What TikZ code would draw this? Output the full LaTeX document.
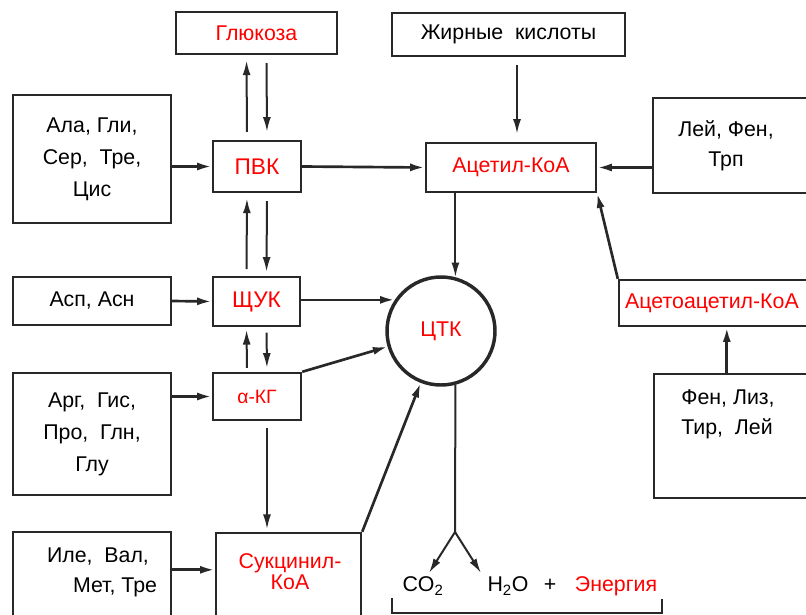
\documentclass[tikz,border=0pt]{standalone}
\usepackage{fontspec}
\setmainfont{Liberation Sans}
\usetikzlibrary{arrows.meta,calc}

\definecolor{ink}{RGB}{40,40,40}
\definecolor{hot}{RGB}{255,0,0}

\tikzset{every picture/.style={line width=0.75pt}}
\tikzset{
  box/.style={draw=ink, line width=1.8pt, inner sep=0pt, rectangle},
  size/.style 2 args={minimum width=#1*0.75pt, minimum height=#2*0.75pt},
  txt/.style={font=\fontsize{16}{24}\selectfont, align=center, text=black},
  key/.style={txt, text=hot},
  big/.style={font=\fontsize{17}{20}\selectfont},
  arr/.style={draw=ink, line width=1.5pt, -{Latex[length=11pt,width=6pt]}},
  bold arr/.style={arr, line width=2pt},
}

\begin{document}
\begin{tikzpicture}[x=0.75pt,y=0.75pt,yscale=-1,xscale=1]
	\useasboundingbox (0,0) rectangle (806,614);
	\clip (0,0) rectangle (806,614);

	%Shape: Rectangle [top row]
	\node[box, key, size={161}{42}] (glu) at (256.5,33) {Глюкоза};
	\node[box, txt, size={233}{43}] (fat) at (508.5,34.5) {Жирные\ \ кислоты};

	%Shape: Rectangle [left column]
	\node[box, txt, size={158}{128}] (ala) at (92,159) {Ала, Гли,\\Сер,\ \ Тре,\\Цис};
	\node[box, txt, size={158}{48}] (asp) at (92,301) {Асп, Асн};
	\node[box, txt, size={158}{122}] (arg) at (92,434) {Арг,\ \ Гис,\\Про,\ \ Глн,\\Глу};
	\node[box, size={158}{108}] (ile) at (92,586) {};
	\node[txt, align=left, font=\fontsize{16}{22.5}\selectfont] (iletxt) at (102,572) {Иле,\ \ Вал,\\\hspace*{19.5pt}Мет, Тре};

	%Shape: Rectangle [intermediates]
	\node[box, key, big, size={88}{51}] (pvk) at (257,166.5) {ПВК};
	\node[box, key, big, size={87}{49}] (scuk) at (256.5,301.5) {ЩУК};
	\node[box, key, font=\fontsize{14.5}{16}\selectfont, size={88}{47}] (akg) at (257,396.5) {α-КГ};
	\node[box, size={145}{107}] (succ) at (288.5,586.5) {};
	\node[key, font=\fontsize{16}{15.75}\selectfont] (succtxt) at (290,572) {Сукцинил-\\КоА};

	%Shape: Circle
	\node[circle, draw=ink, line width=2.6pt, minimum size=81pt, inner sep=0pt, key] (ctk) at (441,331) {ЦТК};

	%Shape: Rectangle [right side]
	\node[box, key, size={170}{49}] (acoa) at (511,167.5) {Ацетил-КоА};
	\node[box, size={177}{95}] (lft) at (741.5,145.5) {};
	\node[txt, font=\fontsize{16}{22.5}\selectfont] (lfttxt) at (726,146) {Лей, Фен,\\Трп};
	\node[box, size={211}{46}] (acac) at (724.5,303) {};
	\node[key] (acactxt) at (712,303) {Ацетоацетил-КоА};
	\node[box, size={176}{124}] (fen) at (742,436) {};
	\node[txt, align=left, font=\fontsize{16}{22.5}\selectfont] (fentxt) at (728,414) {Фен, Лиз,\\Тир,\ \ Лей};

	% Text Node [products]
	\node[txt] (co2) at (423,586) {CO\textsubscript{2}};
	\node[txt] (h2o) at (508,586) {H\textsubscript{2}O};
	\node[txt] (plus) at (550,585) {+};
	\node[key] (en) at (616,586) {Энергия};
	\coordinate (fork) at (455,532);
	\coordinate (co2tip) at (429,573);
	\coordinate (h2otip) at (481,573);

	%Straight Lines [up and down between the intermediates]
	\draw[arr, shorten <=6pt, shorten >=4pt] ([xshift=-7.5pt]pvk.north) -- ([xshift=-7.5pt]glu.south);
	\draw[arr, shorten <=6pt, shorten >=6pt] ([xshift=7.5pt]glu.south) -- ([xshift=7.5pt]pvk.north);
	\draw[arr, shorten <=5pt, shorten >=4pt] ([xshift=-7.5pt]scuk.north) -- ([xshift=-7.5pt]pvk.south);
	\draw[arr, shorten <=6pt, shorten >=3pt] ([xshift=7.5pt]pvk.south) -- ([xshift=7.5pt]scuk.north);
	\draw[arr, shorten <=3pt, shorten >=2pt] ([xshift=-7.5pt]akg.north) -- ([xshift=-7.5pt]scuk.south);
	\draw[arr, shorten <=4pt, shorten >=3pt] ([xshift=7.5pt]scuk.south) -- ([xshift=7.5pt]akg.north);
	\draw[arr, shorten <=5pt, shorten >=2pt] ([xshift=7.5pt]akg.south) -- ([xshift=7.5pt]akg.south |- succ.north);

	%Straight Lines [amino acids into the intermediates]
	\draw[bold arr] (ala.east |- pvk.west) -- (pvk.west);
	\draw[bold arr] (asp.east) -- (scuk.west);
	\draw[bold arr] (arg.east |- akg.west) -- (akg.west);
	\draw[bold arr] ($(ile.north east)+(0,39)$) -- ($(succ.north west)+(0,38)$);

	%Straight Lines [into the cycle]
	\draw[bold arr] (pvk.east) -- (acoa.west);
	\draw[arr, shorten <=6pt, shorten >=6pt] ([xshift=4.5pt]acoa.north |- fat.south) -- ([xshift=4.5pt]acoa.north);
	\draw[bold arr] (lft.west |- acoa.east) -- (acoa.east);
	\draw[bold arr] (acac.north west) -- (acoa.south east);
	\draw[bold arr] ([xshift=55.5pt]fen.north west) -- ([xshift=55.5pt]fen.north west |- acac.south);
	\draw[arr] (acoa.south -| ctk.75) -- (ctk.75);
	\draw[bold arr] (scuk.east |- ctk.146) -- (ctk.146);
	\draw[bold arr] (akg.north east) -- (ctk);
	\draw[bold arr] (succ.north east) -- (ctk);

	%Straight Lines [out of the cycle]
	\draw[ink, line width=1.5pt] (ctk.-75) -- (fork);
	\draw[arr] (fork) -- (co2tip);
	\draw[arr] (fork) -- (h2otip);
	\draw[ink, line width=1.8pt] (392,598) -- (392,613) -- (662,613) -- (662,599);

\end{tikzpicture}
\end{document}
